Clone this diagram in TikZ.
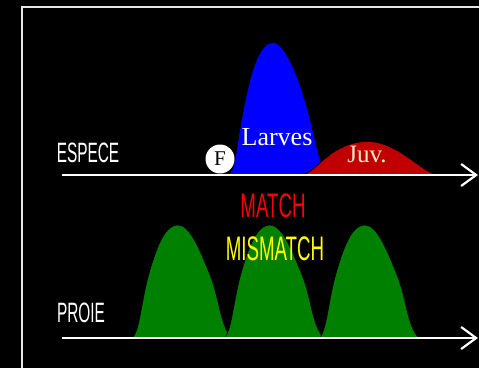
\documentclass[tikz,border=0pt]{standalone}
\usepackage{fontspec}
\setmainfont{Liberation Serif}
\setsansfont{Liberation Sans}
\usepackage{graphicx}
\usetikzlibrary{arrows.meta,positioning}
\definecolor{larve}{HTML}{0000FF}
\definecolor{juv}{HTML}{C00000}
\definecolor{proie}{HTML}{008000}
\definecolor{pale}{HTML}{FFEBC8}
\definecolor{cadre}{HTML}{E6E6E6}
\definecolor{match}{HTML}{FF0000}
\definecolor{mismatch}{HTML}{FFFF00}
\newcommand{\narrow}[1]{\scalebox{0.55}[1]{#1}}

\begin{document}
\begin{tikzpicture}[x=1pt,y=-1pt,>={Straight Barb[length=15pt,width=22pt,line width=2.2pt]}]
  \tikzset{axe/.style={draw=white,line width=2.2pt,->},
           titre/.style={inner sep=0pt,font=\sffamily\fontsize{28}{28}\selectfont},
           bosse/.style={fill=proie,draw=black,line width=0.6pt}}
  \fill[black] (0,0) rectangle (479,368);
  \useasboundingbox (0,0) rectangle (479,368);
  % cadre
  \coordinate (c1) at (22,368);
  \coordinate (c2) at (22,7);
  \coordinate (c3) at (479,7);
  \draw[cadre,line width=2pt] (c1) -- (c2) -- (c3);

  % larves et juveniles
  \fill[larve] (228,175) .. controls (236,172) and (236,150) .. (242,120)
     .. controls (252,62) and (262,43) .. (273,43)
     .. controls (285,43) and (300,80) .. (310,120)
     .. controls (316,145) and (318,158) .. (323,166) -- (300,175) -- cycle;
  \fill[juv] (303,175) .. controls (315,170) and (320,161) .. (330,155)
     .. controls (345,145) and (355,142) .. (368,142)
     .. controls (385,142) and (400,152) .. (415,163)
     .. controls (425,170) and (430,174) .. (438,175) -- cycle;
  \draw[black,line width=0.8pt] (303,175) .. controls (315,170) and (320,161) .. (330,155);

  % proies
  \foreach \dx in {0,92,187}
    \filldraw[bosse,shift={(\dx,0)}] (132,338) .. controls (140,332) and (141,300) .. (150,270)
       .. controls (160,236) and (168,225) .. (178,225)
       .. controls (190,225) and (200,250) .. (210,275)
       .. controls (220,300) and (220,326) .. (232,338) -- cycle;

  % axes
  \coordinate (e0) at (62,175);
  \coordinate (e1) at (478,175);
  \coordinate (p0) at (62,338);
  \coordinate (p1) at (478,338);
  \draw[axe] (e0) -- (e1);
  \draw[axe] (p0) -- (p1);

  \node[circle,fill=white,minimum size=29pt,inner sep=0pt,
        font=\fontsize{21}{21}\selectfont] (F) at (220,159) {F};

  \node[titre,text=white] (espece) at (88,153) {\narrow{ESPECE}};
  \node[titre,text=white] (proie) at (81,313) {\narrow{PROIE}};
  \node[titre,text=match,font=\sffamily\fontsize{34}{34}\selectfont] (match) at (273,206) {\narrow{MATCH}};
  \node[titre,text=mismatch,font=\sffamily\fontsize{34}{34}\selectfont] (mismatch) at (275,249) {\narrow{MISMATCH}};
  \node[inner sep=0pt,text=white,font=\fontsize{26}{26}\selectfont] (larves) at (277,137) {Larves};
  \node[inner sep=0pt,text=pale,font=\fontsize{25}{25}\selectfont] (juv) at (367,154) {Juv.};
\end{tikzpicture}
\end{document}
